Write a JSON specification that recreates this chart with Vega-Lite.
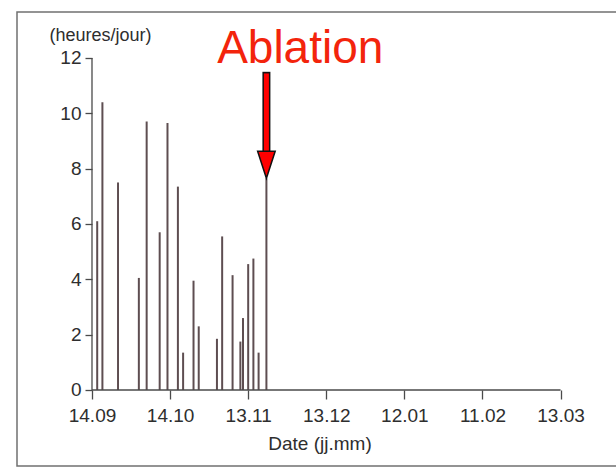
{
  "$schema": "https://vega.github.io/schema/vega-lite/v6.json",
  "width": 605,
  "height": 454,
  "autosize": {"type": "none"},
  "padding": {"left": 17, "top": 12, "right": -6, "bottom": 6},
  "background": "white",
  "config": {
    "font": "Liberation Sans",
    "view": {"stroke": "#707070", "strokeWidth": 1.5}
  },
  "datasets": {
    "insolation": [
      {"date": "2001-09-16", "hours": 6.1},
      {"date": "2001-09-18", "hours": 10.4},
      {"date": "2001-09-24", "hours": 7.5},
      {"date": "2001-10-02", "hours": 4.05},
      {"date": "2001-10-05", "hours": 9.7},
      {"date": "2001-10-10", "hours": 5.7},
      {"date": "2001-10-13", "hours": 9.65},
      {"date": "2001-10-17", "hours": 7.35},
      {"date": "2001-10-19", "hours": 1.35},
      {"date": "2001-10-23", "hours": 3.95},
      {"date": "2001-10-25", "hours": 2.3},
      {"date": "2001-11-01", "hours": 1.85},
      {"date": "2001-11-03", "hours": 5.55},
      {"date": "2001-11-07", "hours": 4.15},
      {"date": "2001-11-10", "hours": 1.75},
      {"date": "2001-11-11", "hours": 2.6},
      {"date": "2001-11-13", "hours": 4.55},
      {"date": "2001-11-15", "hours": 4.75},
      {"date": "2001-11-17", "hours": 1.35},
      {"date": "2001-11-20", "hours": 7.65}
    ],
    "axes": [
      {"date": "2001-09-14", "end": "2002-03-13", "hours": 0, "top": 12}
    ],
    "arrow": [
      {"date": "2001-11-20", "hours": 11.5, "tail_inner": 11.44, "neck": 8.6, "tip": 7.65}
    ],
    "note": [
      {"date": "2001-12-03", "hours": 11.8, "label": "Ablation"}
    ]
  },
  "encoding": {
    "x": {
      "field": "date",
      "type": "temporal",
      "scale": {
        "type": "utc",
        "domain": [
          {"year": 2001, "month": 8, "date": 16, "hours": 4, "minutes": 34, "utc": true},
          {"year": 2002, "month": 4, "date": 5, "hours": 14, "minutes": 24, "utc": true}
        ]
      },
      "axis": {
        "values": [
          {"year": 2001, "month": 9, "date": 14, "utc": true},
          {"year": 2001, "month": 10, "date": 14, "utc": true},
          {"year": 2001, "month": 11, "date": 13, "utc": true},
          {"year": 2001, "month": 12, "date": 13, "utc": true},
          {"year": 2002, "month": 1, "date": 12, "utc": true},
          {"year": 2002, "month": 2, "date": 11, "utc": true},
          {"year": 2002, "month": 3, "date": 13, "utc": true}
        ],
        "labelExpr": "utcFormat(datum.value, '%d.%m')",
        "offset": -76,
        "domain": false,
        "grid": false,
        "ticks": true,
        "tickSize": 9,
        "tickColor": "#4a4a4a",
        "tickWidth": 1.3,
        "labelFontSize": 19,
        "labelColor": "#2e2e2e",
        "labelPadding": 7,
        "labelFlush": false,
        "labelOverlap": false,
        "title": "Date (jj.mm)",
        "titleFontSize": 19,
        "titleFontWeight": "normal",
        "titleColor": "#2e2e2e",
        "titlePadding": 9
      }
    },
    "y": {
      "field": "hours",
      "type": "quantitative",
      "scale": {"domain": [-2.747, 13.661], "nice": false, "zero": false},
      "axis": {
        "values": [0, 2, 4, 6, 8, 10, 12],
        "offset": -75,
        "domain": false,
        "grid": false,
        "tickSize": 7,
        "tickColor": "#4a4a4a",
        "tickWidth": 1.3,
        "labelFontSize": 19,
        "labelColor": "#2e2e2e",
        "labelPadding": 4,
        "labelFlush": false,
        "title": "(heures/jour)",
        "titleAngle": 0,
        "titleX": 8,
        "titleY": 23,
        "titleAlign": "center",
        "titleBaseline": "middle",
        "titleFontSize": 18,
        "titleFontWeight": "normal",
        "titleColor": "#2e2e2e"
      }
    }
  },
  "layer": [
    {
      "data": {"name": "insolation"},
      "mark": {"type": "rule", "color": "#5e4e51", "strokeWidth": 2},
      "encoding": {"y2": {"datum": 0}}
    },
    {
      "data": {"name": "axes"},
      "mark": {"type": "rule", "color": "#4a4a4a", "strokeWidth": 1.3},
      "encoding": {"x2": {"field": "end"}}
    },
    {
      "data": {"name": "axes"},
      "mark": {"type": "rule", "color": "#4a4a4a", "strokeWidth": 1.3},
      "encoding": {"y2": {"field": "top"}}
    },
    {
      "data": {"name": "arrow"},
      "mark": {"type": "rule", "color": "#111111", "strokeWidth": 8},
      "encoding": {"y2": {"field": "neck"}}
    },
    {
      "data": {"name": "arrow"},
      "mark": {"type": "rule", "color": "#ff0000", "strokeWidth": 5},
      "encoding": {
        "y": {"field": "tail_inner", "type": "quantitative"},
        "y2": {"field": "neck"}
      }
    },
    {
      "data": {"name": "arrow"},
      "mark": {
        "type": "point",
        "shape": "M-0.65,-2L0.65,-2L0,0Z",
        "size": 729,
        "filled": true,
        "fill": "#ff0000",
        "stroke": "#111111",
        "strokeWidth": 1.5,
        "opacity": 1
      },
      "encoding": {"y": {"field": "tip", "type": "quantitative"}}
    },
    {
      "data": {"name": "note"},
      "mark": {
        "type": "text",
        "fontSize": 46,
        "color": "#f3240c",
        "align": "center",
        "baseline": "alphabetic"
      },
      "encoding": {"text": {"field": "label"}}
    }
  ]
}
